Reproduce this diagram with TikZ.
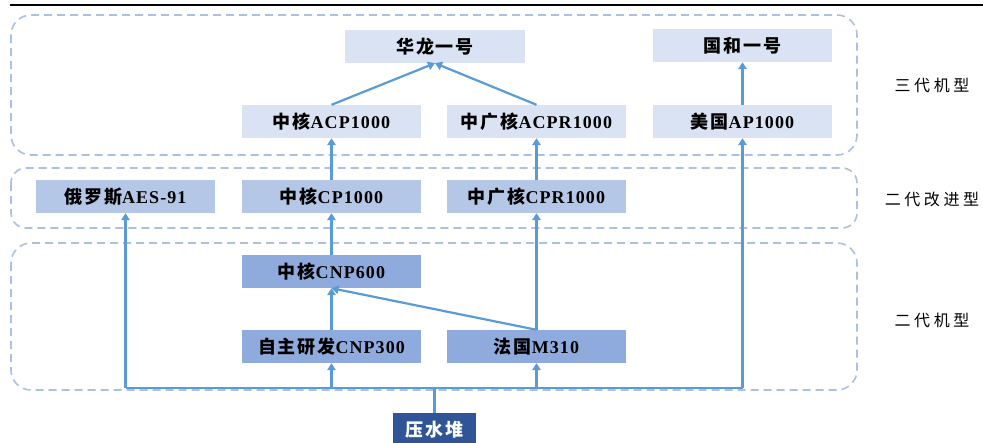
\documentclass[tikz,border=0pt]{standalone}
\usepackage{fontspec}
\setmainfont{Liberation Serif}
\newfontfamily\cjk[LetterSpace=10]{Noto Sans CJK SC}
\newfontfamily\cjkside[LetterSpace=22]{Noto Sans CJK SC}
\usetikzlibrary{arrows.meta}
\definecolor{clight}{RGB}{218,227,243}
\definecolor{cmid}{RGB}{180,199,231}
\definecolor{cdark}{RGB}{143,170,220}
\definecolor{cnavy}{RGB}{47,85,151}
\definecolor{carrow}{RGB}{91,155,213}
\definecolor{cdash}{RGB}{170,192,228}
\newcommand\lbl[2]{{\cjk\bfseries #1}{\addfontfeature{LetterSpace=6}\bfseries #2}}
\tikzset{
  box/.style={inner sep=0pt, minimum width=179pt, minimum height=33pt, font=\fontsize{18}{20}\selectfont},
  lightbox/.style={box, fill=clight},
  midbox/.style={box, fill=cmid},
  darkbox/.style={box, fill=cdark},
  navybox/.style={box, fill=cnavy, text=white, minimum width=83pt, minimum height=34pt},
  group/.style={draw=cdash, line width=1.6pt, dash pattern=on 8pt off 5pt, rounded corners=20pt},
  conn/.style={draw=carrow, line width=2.2pt},
  arr/.style={conn, -{Triangle[length=7pt,width=8.5pt]}},
  side/.style={font=\cjkside\fontsize{16}{18}\selectfont}
}
\begin{document}
\begin{tikzpicture}[x=1pt,y=-1pt]
\useasboundingbox (0,0) rectangle (983,442);
\fill[white] (0,0) rectangle (983,442);
\draw[line width=2.5pt] (10,5) -- (983,5);
% group frames
\draw[group] (11,15) rectangle (857,155);
\draw[group, rounded corners=15pt] (11,168) rectangle (857,228);
\draw[group] (11,243) rectangle (857,390);
% side labels
\node[side] (s3) at (932,85) {三代机型};
\node[side] (s2p) at (932,199) {二代改进型};
\node[side] (s2) at (932,320) {二代机型};
% nodes
\node[lightbox, minimum width=180pt] (hualong) at (435,46.5) {\lbl{华龙一号}{}};
\node[lightbox] (guohe) at (742.5,45.5) {\lbl{国和一号}{}};
\node[lightbox] (acp) at (331.5,121.5) {\lbl{中核}{ACP1000}};
\node[lightbox] (acpr) at (536.5,121.5) {\lbl{中广核}{ACPR1000}};
\node[lightbox] (ap) at (742.5,121.5) {\lbl{美国}{AP1000}};
\node[midbox] (aes) at (125.5,196.5) {\lbl{俄罗斯}{AES-91}};
\node[midbox] (cp) at (331.5,196.5) {\lbl{中核}{CP1000}};
\node[midbox] (cpr) at (536.5,196.5) {\lbl{中广核}{CPR1000}};
\node[darkbox] (cnp600) at (331.5,271.5) {\lbl{中核}{CNP600}};
\node[darkbox] (cnp300) at (331.5,346.5) {\lbl{自主研发}{CNP300}};
\node[darkbox] (m310) at (536.5,346.5) {\lbl{法国}{M310}};
\node[navybox] (pwr) at (434.5,430) {\lbl{压水堆}{}};
% bus
\coordinate (bus) at (0,388);
\coordinate (busl) at (aes.south |- bus);
\coordinate (busr) at (ap.south |- bus);
\coordinate (busm) at (pwr.north |- bus);
\draw[conn] (busl) -- (busr);
\draw[conn] (pwr.north) -- (busm);
\draw[arr] (busl) -- (aes.south);
\draw[arr] (cnp300.south |- bus) -- (cnp300.south);
\draw[arr] (m310.south |- bus) -- (m310.south);
\draw[arr] (busr) -- (ap.south);
% upward links
\draw[arr] (cnp300.north) -- (cnp600.south);
\draw[arr] (m310.north) -- (cnp600.south);
\draw[arr] (m310.north) -- (cpr.south);
\draw[arr] (cnp600.north) -- (cp.south);
\draw[arr] (cp.north) -- (acp.south);
\draw[arr] (cpr.north) -- (acpr.south);
\draw[arr] (acp.north) -- (hualong.south);
\draw[arr] (acpr.north) -- (hualong.south);
\draw[arr] (ap.north) -- (guohe.south);
\end{tikzpicture}
\end{document}
